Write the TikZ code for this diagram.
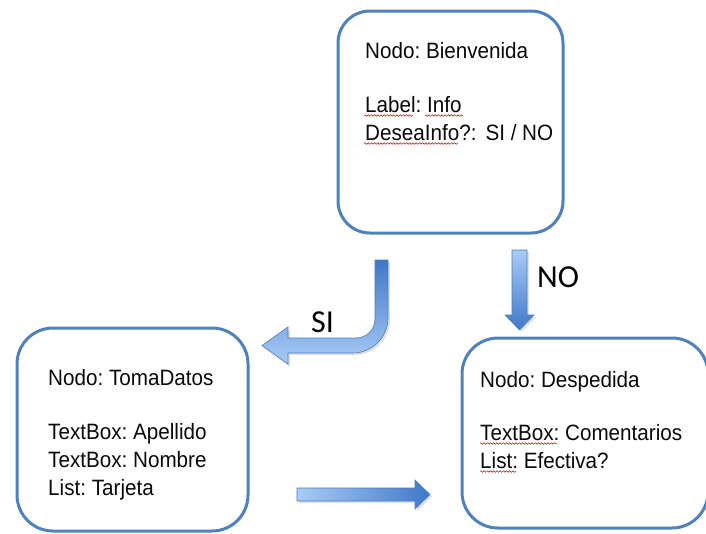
\documentclass[tikz,border=0pt]{standalone}
\usepackage{fontspec}
\setmainfont{Liberation Sans}[FakeStretch=0.93]
\newfontfamily\calfont{Carlito}
\usetikzlibrary{decorations.pathmorphing}
\frenchspacing
\definecolor{boxblue}{HTML}{4F81BD}
\definecolor{arrlight}{HTML}{A9CBF7}
\definecolor{arrdark}{HTML}{3F78C8}
\definecolor{arrborder}{HTML}{4A7EBB}
\definecolor{txtcol}{HTML}{0A0A0A}
\tikzset{
  statebox/.style={draw=boxblue, line width=3pt, rounded corners=32pt, fill=white, inner sep=0pt},
  txt/.style={anchor=base west, inner sep=0pt, text=txtcol, font=\fontsize{22.2}{28}\selectfont\frenchspacing},
  biglabel/.style={anchor=base west, inner sep=0pt, text=black, font=\calfont\fontsize{32}{36}\selectfont},
  arrowedge/.style={draw=arrborder, line width=0.6pt},
  arrshadow/.style={fill=black, opacity=0.12, draw=none},
  spell/.style={draw=red!80!black, line width=0.5pt, decorate, decoration={snake, amplitude=0.8pt, segment length=3.2pt}}
}
\begin{document}
\begin{tikzpicture}[x=1pt, y=-1pt]
\useasboundingbox (0,0) rectangle (706,533);

% boxes
\node[statebox, minimum width=225pt, minimum height=222pt] (bienvenida) at (450.5,122) {};
\node[statebox, minimum width=231pt, minimum height=203pt, rounded corners=36pt] (tomadatos) at (132.5,429.5) {};
\node[statebox, minimum width=246pt, minimum height=190pt, rounded corners=36pt] (despedida) at (585,433) {};

% texts in Bienvenida
\node[txt] (b1) at (365,58) {Nodo: Bienvenida};
\node[txt] (b2) at (365,112) {Label: Info};
\node[txt] (b3) at (365,140) {DeseaInfo?:\hspace{9pt}SI / NO};

% texts in TomaDatos
\node[txt] (t1) at (48,385) {Nodo: TomaDatos};
\node[txt] (t2) at (48,439) {TextBox: Apellido};
\node[txt] (t3) at (48,467) {TextBox: Nombre};
\node[txt] (t4) at (48,495) {List: Tarjeta};

% texts in Despedida
\node[txt] (d1) at (480,387) {Nodo: Despedida};
\node[txt] (d2) at (480,440) {TextBox: Comentarios};
\node[txt] (d3) at (480,468) {List: Efectiva?};

% spell-check underlines
\draw[spell] (364,115.5) -- (413,115.5);
\draw[spell] (425,115.5) -- (463,115.5);
\draw[spell] (364,143.5) -- (458,143.5);
\draw[spell] (480,443.5) -- (557,443.5);
\draw[spell] (480,471.5) -- (516,471.5);

% SI arrow (U-turn)
\fill[arrshadow] (377,262) -- (390,262) -- (390,320) .. controls (390,339) and (374,355) .. (355,355) -- (290,355) -- (290,367) -- (264,348) -- (290,330) -- (290,340) -- (357,340) .. controls (369,340) and (377,332) .. (377,320) -- cycle;
\shade[top color=arrdark, bottom color=arrlight, arrowedge]
  (375,260) -- (388,260) -- (388,318) .. controls (388,337) and (372,353) .. (353,353)
  -- (288,353) -- (288,364) -- (262,345.5) -- (288,327) -- (288,338) -- (355,338)
  .. controls (367,338) and (375,330) .. (375,318) -- cycle;
\node[biglabel] (si) at (311,332) {SI};

% NO arrow (down)
\fill[arrshadow] (514,252) -- (529,252) -- (529,317) -- (536,317) -- (521.5,332) -- (507,317) -- (514,317) -- cycle;
\shade[top color=arrlight, bottom color=arrdark, arrowedge]
  (512,250) -- (527,250) -- (527,315) -- (534,315) -- (519.5,330) -- (505,315) -- (512,315) -- cycle;
\node[biglabel] (no) at (537,287) {NO};

% right arrow
\fill[arrshadow] (299,490) -- (417,490) -- (417,482) -- (432,496.5) -- (417,511) -- (417,503) -- (299,503) -- cycle;
\shade[left color=arrlight, right color=arrdark, arrowedge]
  (297,488) -- (415,488) -- (415,480) -- (430,494.5) -- (415,509) -- (415,501) -- (297,501) -- cycle;
\end{tikzpicture}
\end{document}
